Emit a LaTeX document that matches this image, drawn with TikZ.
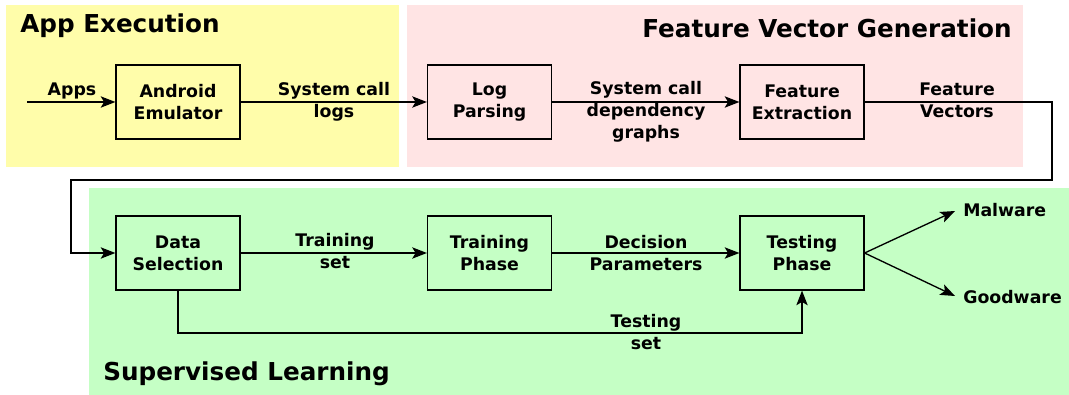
\documentclass[tikz,border=0pt]{standalone}
\usepackage{fontspec}
\setmainfont{DejaVu Sans}
\usetikzlibrary{arrows.meta}
\definecolor{execbg}{RGB}{255,253,170}
\definecolor{featbg}{RGB}{255,228,228}
\definecolor{learnbg}{RGB}{197,255,197}
\tikzset{
  stage/.style={draw, line width=0.9pt, minimum width=93pt, minimum height=55.5pt,
    align=center, font=\fontsize{13}{16.5}\selectfont\bfseries},
  lbl/.style={align=center, inner sep=0pt, font=\fontsize{13}{16.5}\selectfont\bfseries},
  outlbl/.style={inner sep=0pt, font=\fontsize{13}{16}\selectfont\bfseries},
  title/.style={inner sep=0pt, font=\fontsize{18.5}{22}\selectfont\bfseries},
  flow/.style={line width=1pt, -{Stealth[length=11pt,width=8.5pt,inset=2.5pt]}},
}
\begin{document}
\begin{tikzpicture}[x=0.75pt,y=-0.75pt]
\useasboundingbox (0,0) rectangle (1069,395);
\fill[white] (0,0) rectangle (1069,395);

% stage backgrounds
\fill[execbg]  (6,5)    rectangle (399,167);
\fill[featbg]  (407,5)  rectangle (1023,167);
\fill[learnbg] (89,188) rectangle (1069,395);

% titles
\node[title, anchor=west] (t1) at (20,26) {App Execution};
\node[title, anchor=east] (t2) at (1012,28) {Feature Vector Generation};
\node[title, anchor=west] (t3) at (103,374) {Supervised Learning};

% processing stages
\node[stage] (emu) at (178,102)   {Android\\Emulator};
\node[stage] (log) at (489.5,102) {Log\\Parsing};
\node[stage] (fe)  at (802,102)   {Feature\\Extraction};
\node[stage] (ds)  at (178,253)   {Data\\Selection};
\node[stage] (tr)  at (489.5,253) {Training\\Phase};
\node[stage] (te)  at (802,253)   {Testing\\Phase};

% outcomes
\node[outlbl, anchor=west] (mal) at (963,210) {Malware};
\node[outlbl, anchor=west] (good) at (963,297) {Goodware};

% helper points for routed connectors
\coordinate (in)  at (27,102);
\coordinate (r1)  at (1052,102);
\coordinate (r2)  at (1052,180);
\coordinate (l1)  at (71,180);
\coordinate (l2)  at (71,253);
\coordinate (tsl) at (178,333);
\coordinate (tsr) at (802,333);
\coordinate (malend)  at (955,211);
\coordinate (goodend) at (955,296);

% connectors
\draw[flow] (in) -- (emu);
\draw[flow] (emu) -- (log);
\draw[flow] (log) -- (fe);
\draw[flow] (fe.east) -- (r1) -- (r2) -- (l1) -- (l2) -- (ds.west);
\draw[flow] (ds) -- (tr);
\draw[flow] (tr) -- (te);
\draw[flow] (ds.south) -- (tsl) -- (tsr) -- (te.south);
\draw[flow] (te.east) -- (malend);
\draw[flow] (te.east) -- (goodend);

% connector labels
\node[lbl] (la) at (72,91) {Apps};
\node[lbl] (lb) at (334,101.5) {System call\\logs};
\node[lbl] (lc) at (646,111.5) {System call\\dependency\\graphs};
\node[lbl] (ld) at (957,100) {Feature\\Vectors};
\node[lbl] (le) at (335,251.5) {Training\\set};
\node[lbl] (lf) at (646,253) {Decision\\Parameters};
\node[lbl] (lg) at (646,332) {Testing\\set};
\end{tikzpicture}
\end{document}
